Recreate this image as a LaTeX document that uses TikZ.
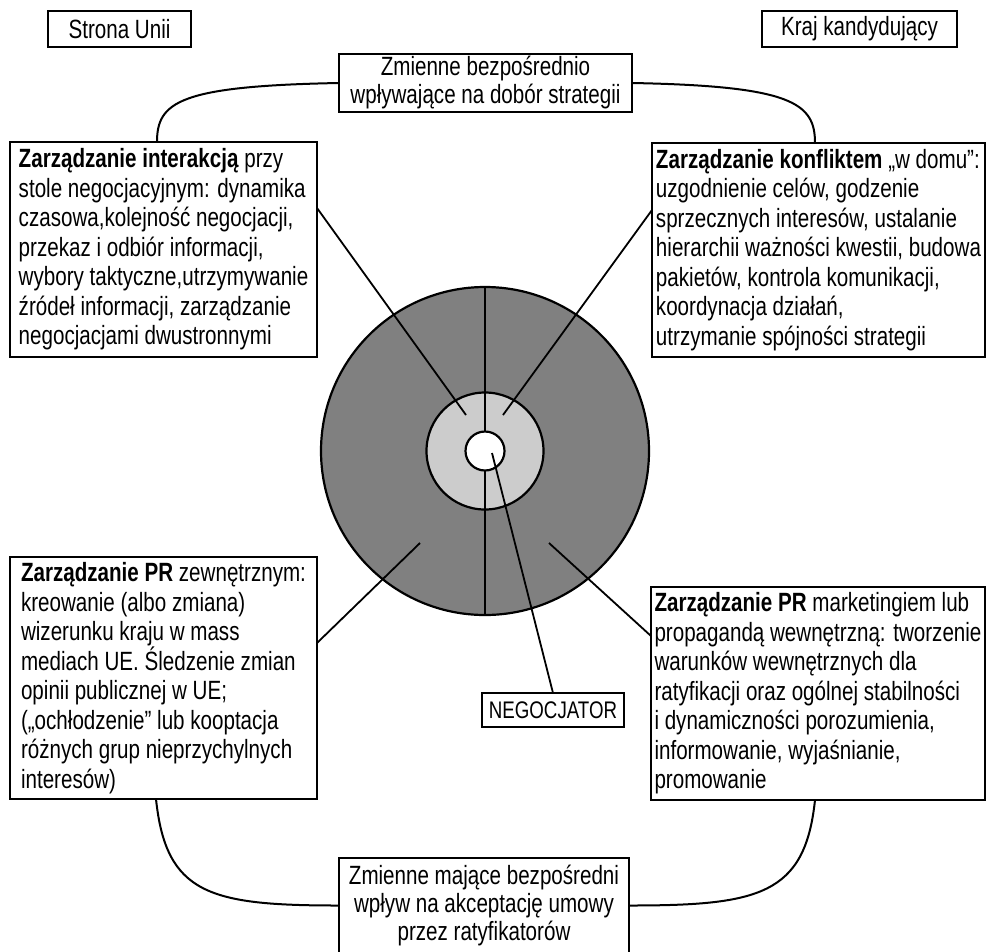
\documentclass[tikz,border=0pt]{standalone}
\usepackage{fontspec}
\setmainfont{Liberation Sans}[FakeStretch=0.78]

\tikzset{
	box/.style={draw, rectangle, line width=2pt, inner sep=0pt, outer sep=0pt},
	textbox/.style={box, anchor=north west, align=left, font=\fontsize{26.4}{29.5}\selectfont},
	varbox/.style={box, align=center, font=\fontsize{26.4}{28}\selectfont},
	sidebox/.style={box, minimum height=36pt, font=\fontsize{26.4}{29.5}\selectfont},
	ring/.style={draw, circle, line width=2.2pt, inner sep=0pt, outer sep=0pt},
	spoke/.style={line width=1.8pt},
	link/.style={line width=2pt}
}

\begin{document}
\begin{tikzpicture}[x=1pt, y=-1pt]
{
	\useasboundingbox (0,0) rectangle (987,951);

	\node[ring, fill=gray, minimum size=328pt] (Outer) at (485,451) {};
	\node[ring, fill=gray!40, minimum size=117pt] (Middle) at (485,451) {};
	\node[ring, fill=white, minimum size=39pt] (Inner) at (485,451) {};
	\draw[link] (Outer.north) -- (Inner.north);
	\draw[link] (Inner.south) -- (Outer.south);

	\node[sidebox, minimum width=143pt] (Union) at (119.5,29) {Strona Unii};
	\node[sidebox, minimum width=195pt] (Candidate) at (859.5,29) {Kraj kandydujący};

	\node[varbox, minimum width=293pt, minimum height=58pt] (TopVars) at (485.5,83)
		{Zmienne bezpośrednio\\ wpływające na dobór strategii};
	\node[varbox, anchor=north, minimum width=290pt, minimum height=95pt] (BottomVars) at (484,858)
		{Zmienne mające bezpośredni\\ wpływ na akceptację umowy\\ przez ratyfikatorów};

	\node[textbox, minimum width=307pt, minimum height=215pt] (Interaction) at (10,142)
		{\textbf{Zarządzanie interakcją} przy\\
		stole negocjacyjnym: dynamika\\
		czasowa,kolejność negocjacji,\\
		przekaz i odbiór informacji,\\
		wybory taktyczne,utrzymywanie\\
		źródeł informacji, zarządzanie\\
		negocjacjami dwustronnymi};
	\node[textbox, minimum width=333pt, minimum height=214pt] (Conflict) at (652,143)
		{\textbf{Zarządzanie konfliktem} „w domu”:\\
		uzgodnienie celów, godzenie\\
		sprzecznych interesów, ustalanie\\
		hierarchii ważności kwestii, budowa\\
		pakietów, kontrola komunikacji,\\
		koordynacja działań,\\
		utrzymanie spójności strategii};
	\node[textbox, minimum width=307pt, minimum height=242pt] (ExternalPR) at (10,557)
		{\textbf{Zarządzanie PR} zewnętrznym:\\
		kreowanie (albo zmiana)\\
		wizerunku kraju w mass\\
		mediach UE. Śledzenie zmian\\
		opinii publicznej w UE;\\
		(„ochłodzenie” lub kooptacja\\
		różnych grup nieprzychylnych\\
		interesów)};
	\node[textbox, minimum width=334pt, minimum height=213pt] (InternalPR) at (651,587)
		{\textbf{Zarządzanie PR} marketingiem lub\\
		propagandą wewnętrzną: tworzenie\\
		warunków wewnętrznych dla\\
		ratyfikacji oraz ogólnej stabilności\\
		i dynamiczności porozumienia,\\
		informowanie, wyjaśnianie,\\
		promowanie};

	\node[box, minimum width=142pt, minimum height=34pt, font=\fontsize{24}{26}\selectfont] (Negotiator) at (553,710) {NEGOCJATOR};

	\coordinate (EndInteraction) at (466,415);
	\coordinate (EndConflict) at (503,415);
	\coordinate (EndExternal) at (420,543);
	\coordinate (EndInternal) at (549,543);
	\coordinate (EndNegotiator) at (492,453);

	\draw[spoke] ([yshift=41.5pt]Interaction.east) -- (EndInteraction);
	\draw[spoke] ([yshift=40pt]Conflict.west) -- (EndConflict);
	\draw[spoke] ([yshift=35pt]ExternalPR.east) -- (EndExternal);
	\draw[spoke] ([yshift=57.5pt]InternalPR.west) -- (EndInternal);
	\draw[spoke] (EndNegotiator) -- (Negotiator.north);

	\draw[link] (TopVars.west) .. controls +(-160,3) and +(0,-40) .. ([xshift=-6.5pt]Interaction.north);
	\draw[link] (TopVars.east) .. controls +(160,3) and +(0,-40) .. ([xshift=-3.5pt]Conflict.north);
	\draw[link] ([xshift=-7.5pt]ExternalPR.south) .. controls +(10,95) and +(-130,0) .. (BottomVars.west);
	\draw[link] ([xshift=-3pt]InternalPR.south) .. controls +(-10,95) and +(130,0) .. (BottomVars.east);
}
\end{tikzpicture}
\end{document}
